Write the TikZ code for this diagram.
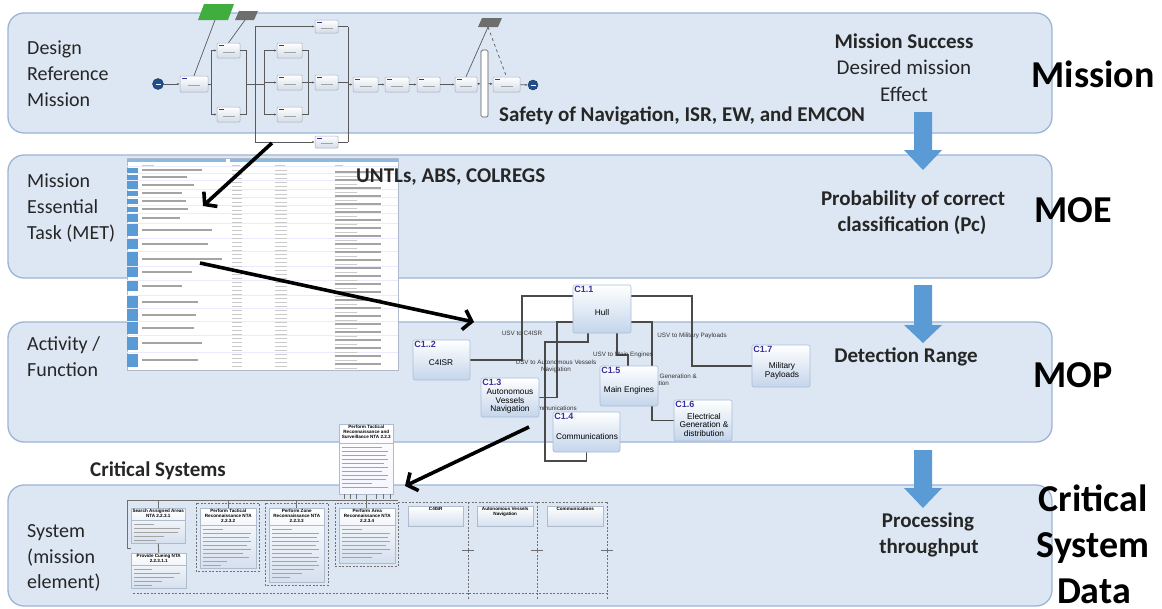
\documentclass[tikz,border=0pt]{standalone}
\usepackage{fontspec}
\setmainfont{Carlito}
\newfontfamily\smallsans{Liberation Sans}
\usetikzlibrary{arrows.meta,calc}
\pgfdeclarelayer{bandlayer}
\pgfdeclarelayer{linelayer}
\pgfsetlayers{bandlayer,linelayer,main}
\definecolor{bandfill}{HTML}{DDE7F3}
\definecolor{banddraw}{HTML}{9BB5D5}
\definecolor{bluearrow}{HTML}{5B9BD5}
\definecolor{boxdraw}{HTML}{A9BDD8}
\definecolor{boxbot}{HTML}{C4D5EB}
\definecolor{idcol}{HTML}{3A2F9E}
\definecolor{linegray}{HTML}{4A4A4A}
\definecolor{tblblue}{HTML}{5B9BD5}
\definecolor{txtgray}{HTML}{CACACA}
\definecolor{txtdark}{HTML}{A4A4A4}
\definecolor{flowgreen}{HTML}{3FAE3F}
\definecolor{flowgray}{HTML}{6E6E6E}
\definecolor{flowedge}{HTML}{A6AEBB}
\definecolor{flowbot}{HTML}{D3DCE8}
\definecolor{flowline}{HTML}{5A5A5A}
\definecolor{startblue}{HTML}{1F4F8F}
\definecolor{cedge}{HTML}{AEBBCC}
\definecolor{cbot}{HTML}{D5E0EE}
\definecolor{clinecol}{HTML}{707070}
\definecolor{labgray}{HTML}{262626}
\tikzset{
  band/.style={draw=banddraw, fill=bandfill, line width=1.3pt, rounded corners=16pt},
  biglab/.style={font=\fontsize{38}{44}\selectfont\bfseries, inner sep=0pt, anchor=base},
  sidelab/.style={font=\fontsize{20}{24}\selectfont, text=labgray, inner sep=0pt, anchor=base west},
  midbold/.style={font=\fontsize{21}{25}\selectfont\bfseries, text=labgray, inner sep=0pt, anchor=base},
  midreg/.style={font=\fontsize{21}{25}\selectfont, text=labgray, inner sep=0pt, anchor=base},
  blackarrow/.style={line width=3.6pt, black, -{Straight Barb[length=8pt,width=20pt]}},
  fbox/.style={draw=flowedge, line width=0.5pt, top color=white, bottom color=flowbot, rounded corners=1pt, inner sep=0pt,
    path picture={\draw[txtdark, line width=0.6pt] ($(path picture bounding box.center)+(-6,1.5)$) -- ++(12,0);
                  \draw[idcol, line width=0.7pt] ($(path picture bounding box.north west)+(2,2)$) -- ++(5,0);}},
  flowln/.style={draw=flowline, line width=0.7pt},
  flowarr/.style={flowln, -{Latex[length=2.5pt,width=2.2pt]}},
  endcirc/.style={circle, fill=startblue, draw=startblue!60!black, inner sep=0pt, minimum size=11pt,
    path picture={\draw[white, line width=0.9pt] ($(path picture bounding box.center)+(-2.5,0)$) -- ++(5,0);}},
  mbox/.style={draw=boxdraw, line width=0.6pt, top color=white, bottom color=boxbot, rounded corners=2pt, inner sep=0pt},
  mtext/.style={font=\smallsans\fontsize{8.3}{8.6}\selectfont, align=center, inner sep=0pt},
  idlab/.style={font=\smallsans\bfseries\fontsize{9}{10}\selectfont, text=idcol, inner sep=1.5pt, anchor=north west},
  mline/.style={draw=linegray, line width=1.3pt},
  mlab/.style={font=\smallsans\fontsize{6.3}{7}\selectfont, text=black!80, inner sep=0pt, align=center},
  cbox/.style={draw=cedge, line width=0.5pt, top color=white, bottom color=cbot, inner sep=0pt, anchor=north west},
  ctitle/.style={font=\smallsans\bfseries\fontsize{4.6}{5.2}\selectfont, align=center, inner sep=0.8pt, anchor=north},
  csline/.style={draw=txtdark, line width=0.8pt},
  csolid/.style={draw=clinecol, line width=0.9pt},
  cdash/.style={draw=clinecol, line width=0.7pt, dash pattern=on 2pt off 1.5pt},
  tline/.style={draw=txtgray, line width=1pt},
  tlinedark/.style={draw=txtdark, line width=1.1pt},
}
\begin{document}
\begin{tikzpicture}[x=1pt,y=-1pt]
\useasboundingbox (0,0) rectangle (1162,608);
\begin{pgfonlayer}{bandlayer}
\fill[white] (0,0) rectangle (1162,608);
\draw[band] (8,13) rectangle (1052,133);
\draw[band] (8,155) rectangle (1052,278);
\draw[band] (8,322) rectangle (1052,442);
\draw[band] (8,485) rectangle (1052,606);
\end{pgfonlayer}

% ---------------- blue block arrows
\foreach \ya/\yb/\yc in {112/150/170, 285/325/343, 450/488/508}{
  \fill[bluearrow] (914,\ya) -- (932,\ya) -- (932,\yb) -- (942,\yb) -- (923,\yc) -- (904,\yb) -- (914,\yb) -- cycle;
}

% ---------------- right big labels
\node[biglab] (lmission) at (1093,87) {Mission};
\node[biglab] (lmoe) at (1073,222) {MOE};
\node[biglab] (lmop) at (1073,387) {MOP};
\node[biglab] (lcrit) at (1093,511) {Critical};
\node[biglab] (lsys) at (1093,557) {System};
\node[biglab, text depth=0pt] (ldata) at (1094,603) {Data};

% ---------------- left labels
\node[sidelab] (d1) at (27,54) {Design};
\node[sidelab] (d2) at (27,80) {Reference};
\node[sidelab] (d3) at (27,106) {Mission};
\node[sidelab] (m1) at (27,187) {Mission};
\node[sidelab] (m2) at (27,213) {Essential};
\node[sidelab] (m3) at (27,239) {Task (MET)};
\node[sidelab] (a1) at (27,350) {Activity /};
\node[sidelab] (a2) at (27,376) {Function};
\node[sidelab] (s1) at (27,537) {System};
\node[sidelab] (s2) at (27,563) {(mission};
\node[sidelab] (s3) at (27,588) {element)};

% ---------------- right-middle texts
\node[midbold] (ms1) at (904,48) {Mission Success};
\node[midreg] (ms2) at (904,74) {Desired mission};
\node[midreg] (ms3) at (904,101) {Effect};
\node[midbold] (pc1) at (913,205) {Probability of correct};
\node[midbold] (pc2) at (912,231) {classification (Pc)};
\node[midbold] (dr) at (906,362) {Detection Range};
\node[midbold] (pt1) at (928,527) {Processing};
\node[midbold] (pt2) at (929,553) {throughput};

% ---------------- mission flow diagram
\fill[flowgreen] (204,4) -- (234,4) -- (228,20) -- (198,20) -- cycle;
\fill[flowgray] (239,11) -- (258,11) -- (254,20) -- (235,20) -- cycle;
\fill[flowgray] (482,18) -- (502,18) -- (498,27) -- (478,27) -- cycle;
\coordinate (gpg) at (215,20);
\coordinate (gp1) at (245,20);
\coordinate (gp2) at (488,27);

\node[endcirc] (fstart) at (158,84) {};
\node[fbox, minimum width=28, minimum height=16] (fa) at (194,84) {};
\node[fbox, minimum width=23, minimum height=15] (fb) at (228.5,50.5) {};
\node[fbox, minimum width=23, minimum height=15] (fc) at (228.5,114.5) {};
\node[fbox, minimum width=23, minimum height=13] (fd) at (326.5,26.5) {};
\node[fbox, minimum width=25, minimum height=15] (fe) at (289.5,50.5) {};
\node[fbox, minimum width=25, minimum height=15] (ff) at (289.5,82.5) {};
\node[fbox, minimum width=25, minimum height=15] (fg) at (289.5,114.5) {};
\node[fbox, minimum width=23, minimum height=15] (fh) at (326.5,82.5) {};
\node[fbox, minimum width=23, minimum height=12] (fi) at (326.5,142) {};
\node[fbox, minimum width=25, minimum height=15] (fj) at (365.5,84.5) {};
\node[fbox, minimum width=24, minimum height=15] (fk) at (397,84.5) {};
\node[fbox, minimum width=23, minimum height=15] (fl) at (428.5,84.5) {};
\node[fbox, minimum width=22, minimum height=15] (fm) at (466,84.5) {};
\node[draw=flowline, line width=0.7pt, fill=white, rounded corners=1.5pt, minimum width=7, minimum height=67, inner sep=0pt] (fbar) at (484.5,83.5) {};
\node[fbox, minimum width=27, minimum height=15] (fn) at (506.5,84.5) {};
\node[endcirc, minimum size=10pt] (fend) at (533,85) {};

\draw[flowln] (gpg) -- (fa.north);
\draw[flowln] (gp1) -- (fb.north);
\draw[flowln] (gp2) -- (fm.north);
\draw[flowln, dashed] (gp2) -- (fn.north);
\draw[flowarr] (fstart) -- (fa);
\draw[flowln] (fa.east) -- (211,84);
\draw[flowln] (211,50.5) -- (211,114.5);
\draw[flowarr] (211,50.5) -- (fb.west);
\draw[flowarr] (211,114.5) -- (fc.west);
\draw[flowln] (fb.east) -- (246,50.5) -- (246,114.5) -- (fc.east);
\draw[flowln] (246,84) -- (264,84);
\draw[flowln] (255,26.5) -- (255,142);
\draw[flowln] (348,26.5) -- (348,142);
\draw[flowarr] (255,26.5) -- (fd.west);
\draw[flowln] (fd.east) -- (348,26.5);
\draw[flowarr] (255,142) -- (fi.west);
\draw[flowln] (fi.east) -- (348,142);
\draw[flowln] (264,50.5) -- (264,114.5);
\draw[flowarr] (264,50.5) -- (fe.west);
\draw[flowarr] (264,82.5) -- (ff.west);
\draw[flowarr] (264,114.5) -- (fg.west);
\draw[flowln] (fe.east) -- (308,50.5) -- (308,114.5) -- (fg.east);
\draw[flowln] (ff.east) -- (308,82.5);
\draw[flowarr] (308,82.5) -- (fh.west);
\draw[flowln] (fh.east) -- (348,82.5);
\draw[flowarr] (348,84.5) -- (fj.west);
\draw[flowarr] (fj) -- (fk);
\draw[flowarr] (fk) -- (fl);
\draw[flowarr] (fl) -- (fm);
\draw[flowarr] (fm) -- (fbar);
\draw[flowarr] (fbar) -- (fn);
\draw[flowarr] (fn) -- (fend);

% ---------------- MET table
\node[draw=cedge, line width=0.5pt, fill=white, minimum width=271, minimum height=212, inner sep=0pt, anchor=north west] (tbl) at (127,158) {};
\fill[tblblue!70] (127,159) rectangle (226,161.5);
\fill[tblblue!70] (230,159) rectangle (398,161.5);
\draw[tline] (142,165) -- ++(12,0);
\draw[tline] (232,165) -- ++(8,0);
\draw[tline] (275,165) -- ++(10,0);
\draw[tline] (335,165) -- ++(8,0);
\foreach \yc/\h/\w in {170/5/60, 177/5/45, 185/8/52, 193/5/40, 201/5/44, 209/5/46, 218/8/38, 230/12/70, 244/10/66, 259/14/80, 272/10/50, 286/10/40, 302/12/56, 315/12/54, 328/12/52, 343/13/60, 360/13/56}{
  \draw[draw=blue!8, line width=0.4pt] (127,\yc-\h/2-1) -- (398,\yc-\h/2-1);
  \fill[tblblue] (127,\yc-\h/2) rectangle (138,\yc+\h/2);
  \draw[tlinedark] (142,\yc) -- ++(\w,0);
}
\foreach \y in {170,174,...,366}{
  \draw[tline] (232,\y) -- ++(10,0);
  \draw[tline] (275,\y) -- ++(12,0);
}
\foreach \y in {172,180,...,364}{
  \draw[tlinedark] (335,\y) -- ++(46,0);
  \draw[tline] (335,\y+4) -- ++(22,0);
}

% ---------------- texts drawn over the screenshots
\node[midbold, anchor=base west] (safety) at (499,121) {Safety of Navigation, ISR, EW, and EMCON};
\node[midbold, anchor=base west] (untl) at (356,182) {UNTLs, ABS, COLREGS};
\node[midbold, anchor=base west] (critsys) at (90,476) {Critical Systems};

% ---------------- MOP system diagram
\node[mbox, minimum width=58, minimum height=48, label={[idlab]north west:C1.1}] (hull) at (602,309) {};
\node[mtext] (hullt) at (602,313) {Hull};
\node[mbox, minimum width=57, minimum height=40, label={[idlab]north west:C1..2}] (c4) at (441.5,360) {};
\node[mtext] (c4t) at (441,363) {C4ISR};
\node[mbox, minimum width=58, minimum height=39, label={[idlab]north west:C1.3}] (avn) at (510,397.5) {};
\node[mtext] (avnt) at (510,401) {Autonomous\\Vessels\\Navigation};
\node[mbox, minimum width=67, minimum height=40, label={[idlab]north west:C1.4}] (comm) at (586.5,432) {};
\node[mtext] (commt) at (587,437) {Communications};
\node[mbox, minimum width=58, minimum height=40, label={[idlab]north west:C1.5}] (me) at (629,386) {};
\node[mtext] (met) at (629,390) {Main Engines};
\node[mbox, minimum width=58, minimum height=41, label={[idlab]north west:C1.6}] (c16) at (703,420.5) {};
\node[mtext] (c16t) at (704,425) {Electrical\\Generation \&\\distribution};
\node[mbox, minimum width=58, minimum height=42, label={[idlab]north west:C1.7}] (mil) at (781,366) {};
\node[mtext] (milt) at (782,371) {Military\\Payloads};

\begin{pgfonlayer}{linelayer}
\draw[mline] (c4.east) -- (522,360) -- (522,296) -- (hull.west |- 0,296);
\draw[mline] (hull.east |- 0,296) -- (692,296) -- (692,366) -- (mil.west);
\draw[mline] (hull.west |- 0,322) -- (557,322) -- (557,397.5) -- (avn.east);
\draw[mline] (hull.south -| 588,0) -- (588,342) -- (545,342) -- (545,461) -- (586.5,461) -- (comm.south);
\draw[mline] (hull.south -| 617,0) -- (617,355) -- (628,355) -- (me.north -| 628,0);
\draw[mline] (hull.east |- 0,322) -- (652,322) -- (652,420.5) -- (c16.west);
\node[mlab] (l1) at (522,333) {USV to C4ISR};
\node[mlab] (l2) at (556,366) {USV to Autonomous Vessels\\Navigation};
\node[mlab] (l3) at (623,355) {USV to Main Engines};
\node[mlab] (l4) at (692,336) {USV to Military Payloads};
\node[mlab, anchor=east] (l5) at (577,408) {USV to Communications};
\node[mlab, anchor=north east] (l6) at (697,374) {USV to Electrical Generation \&\\distribution};
\end{pgfonlayer}

% ---------------- Critical systems diagram
\node[cbox, top color=white, bottom color=blue!4, minimum width=54, minimum height=70] (ct) at (339,424) {};
\node[ctitle] (ctt) at (ct.north) {Perform Tactical\\Reconnaissance and\\Surveillance NTA 2.2.3};
\draw[cedge] (339,443) -- (393,443);
\foreach \y/\w in {447/40,451/46,455/44,459/46,463/42,467/46,471/40,475/46,479/44,483/30,487/46}
  \draw[csline] (342,\y) -- ++(\w,0);

\node[cbox, minimum width=54, minimum height=35] (cs1) at (131,508) {};
\node[ctitle] (cs1t) at (cs1.north) {Search Assigned Areas\\NTA 2.2.3.1};
\node[cbox, minimum width=56, minimum height=60] (cs2) at (200,508) {};
\node[ctitle] (cs2t) at (cs2.north) {Perform Tactical\\Reconnaissance NTA\\2.2.3.2};
\node[cbox, minimum width=55, minimum height=74] (cs3) at (269,508) {};
\node[ctitle] (cs3t) at (cs3.north) {Perform Zone\\Reconnaissance NTA\\2.2.3.3};
\node[cbox, minimum width=56, minimum height=55] (cs4) at (339,508) {};
\node[ctitle] (cs4t) at (cs4.north) {Perform Area\\Reconnaissance NTA\\2.2.3.4};
\node[cbox, minimum width=55, minimum height=20] (cs5) at (408,506) {};
\node[ctitle] (cs5t) at (cs5.north) {C4ISR};
\node[cbox, minimum width=56, minimum height=20] (cs6) at (477,506) {};
\node[ctitle] (cs6t) at (cs6.north) {Autonomous Vessels\\Navigation};
\node[cbox, minimum width=56, minimum height=20] (cs7) at (547,506) {};
\node[ctitle] (cs7t) at (cs7.north) {Communications};
\node[cbox, minimum width=55, minimum height=35] (cs8) at (131,553) {};
\node[ctitle] (cs8t) at (cs8.north) {Provide Cueing NTA\\2.2.3.1.1};

\draw[cedge] (131,520) -- (185,520);
\draw[cedge] (200,525) -- (256,525);
\draw[cedge] (269,525) -- (324,525);
\draw[cedge] (339,525) -- (395,525);
\draw[cedge] (131,565) -- (186,565);
\foreach \y/\w in {524/20,528/46,532/44,536/30,540/22}
  \draw[csline] (134,\y) -- ++(\w,0);
\foreach \y/\w in {529/20,533/48,537/46,541/48,545/44,549/48,553/40,557/46,561/24,565/18}
  \draw[csline] (203,\y) -- ++(\w,0);
\foreach \y/\w in {529/20,533/47,537/45,541/47,545/44,549/47,553/40,557/47,561/45,565/47,569/42,573/30,577/18}
  \draw[csline] (272,\y) -- ++(\w,0);
\foreach \y/\w in {529/20,533/48,537/46,541/48,545/44,549/48,553/40,557/30}
  \draw[csline] (342,\y) -- ++(\w,0);
\foreach \y/\w in {569/18,573/46,577/40,581/28,585/18}
  \draw[csline] (134,\y) -- ++(\w,0);

\draw[cdash] (196,503) rectangle (259,571);
\draw[cdash] (265,503) rectangle (328,585);
\draw[cdash] (335,503) rectangle (398,566);
\draw[cdash] (398,502) -- (607,502);
\draw[cdash] (468,502) -- (468,600);
\draw[cdash] (537,502) -- (537,600);
\draw[cdash] (607,502) -- (607,600);
\draw[cdash] (133,593) -- (607,593);
\foreach \x in {468,537,607}
  \draw[clinecol, line width=0.6pt] (\x-6,550) -- (\x+6,550);

\draw[csolid] (cs1.north |- 0,500) -- (398,500);
\draw[csolid] (cs1.north |- 0,500) -- (127,500) -- (127,548) -- (131,548);
\draw[csolid] (ct.south) -- (ct.south |- cs4.north);
\draw[csolid] (cs1.north |- 0,500) -- (cs1.north);
\draw[csolid] (cs2.north |- 0,500) -- (cs2.north);
\draw[csolid] (cs3.north |- 0,500) -- (cs3.north);
\draw[csolid] (cs1.south) -- (cs8.north);
\foreach \x in {344,350,356,376,383,390}
  \draw[clinecol, line width=0.5pt] (\x,494) -- (\x,499);

% ---------------- black arrows
\coordinate (a1s) at (272,143);
\coordinate (a1e) at (203,206);
\coordinate (a2s) at (200,263);
\coordinate (a2e) at (474,322);
\coordinate (a3s) at (529,427);
\coordinate (a3e) at (405,486);
\draw[blackarrow] (a1s) -- (a1e);
\draw[blackarrow] (a2s) -- (a2e);
\draw[blackarrow] (a3s) -- (a3e);
\end{tikzpicture}
\end{document}
